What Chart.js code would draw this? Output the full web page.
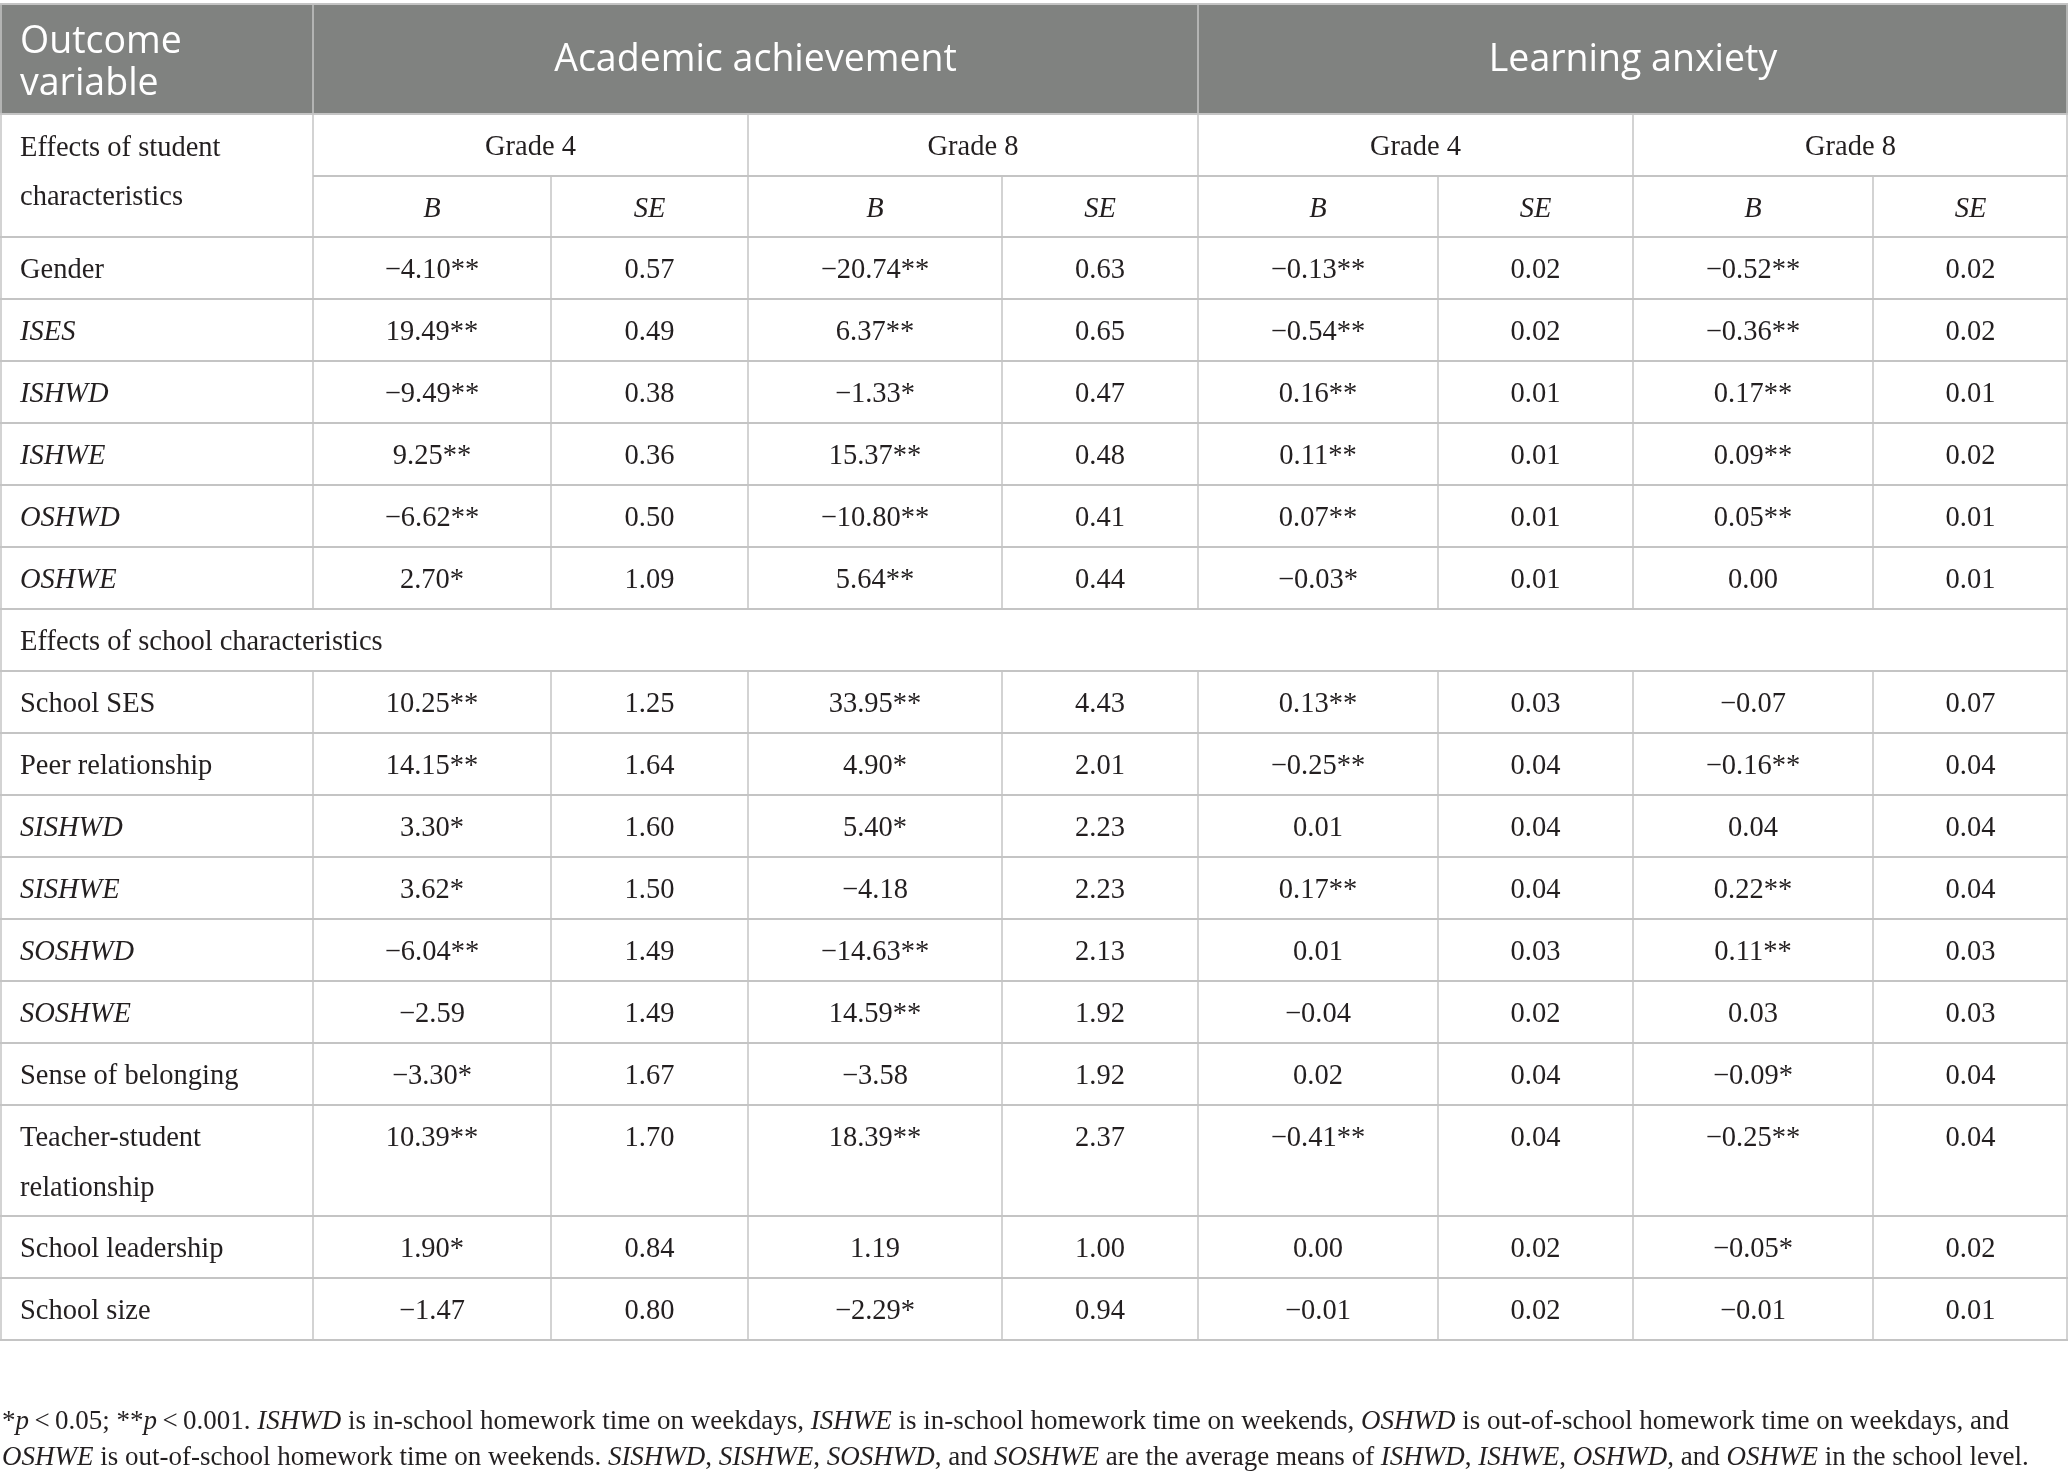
<!DOCTYPE html>
<html>
<head>
<meta charset="utf-8">
<title>Homework time and student outcomes</title>
<script src="https://cdn.jsdelivr.net/npm/chart.js@4.4.1/dist/chart.umd.min.js"></script>
<style>
  html, body { margin: 0; padding: 0; background: #fff; }
  #wrap { width: 2068px; height: 1480px; }
</style>
</head>
<body>
<div id="wrap"><canvas id="myChart" width="2068" height="1480"></canvas></div>
<script>
// table content
const outcomes = ['Academic achievement', 'Learning anxiety'];
const grades = ['Grade 4', 'Grade 8'];
const statCols = ['B', 'SE'];
const studentTitle = 'Effects of student characteristics';
const schoolTitle = 'Effects of school characteristics';

const studentVars = ['Gender', 'ISES', 'ISHWD', 'ISHWE', 'OSHWD', 'OSHWE'];
const schoolVars = ['School SES', 'Peer relationship', 'SISHWD', 'SISHWE', 'SOSHWD', 'SOSHWE',
  'Sense of belonging', 'Teacher-student relationship', 'School leadership', 'School size'];
const italicVars = ['ISES', 'ISHWD', 'ISHWE', 'OSHWD', 'OSHWE', 'SISHWD', 'SISHWE', 'SOSHWD', 'SOSHWE'];

// values: student rows first, then school rows
const acadG4B  = ['−4.10**', '19.49**', '−9.49**', '9.25**', '−6.62**', '2.70*',
  '10.25**', '14.15**', '3.30*', '3.62*', '−6.04**', '−2.59', '−3.30*', '10.39**', '1.90*', '−1.47'];
const acadG4SE = ['0.57', '0.49', '0.38', '0.36', '0.50', '1.09',
  '1.25', '1.64', '1.60', '1.50', '1.49', '1.49', '1.67', '1.70', '0.84', '0.80'];
const acadG8B  = ['−20.74**', '6.37**', '−1.33*', '15.37**', '−10.80**', '5.64**',
  '33.95**', '4.90*', '5.40*', '−4.18', '−14.63**', '14.59**', '−3.58', '18.39**', '1.19', '−2.29*'];
const acadG8SE = ['0.63', '0.65', '0.47', '0.48', '0.41', '0.44',
  '4.43', '2.01', '2.23', '2.23', '2.13', '1.92', '1.92', '2.37', '1.00', '0.94'];
const anxG4B   = ['−0.13**', '−0.54**', '0.16**', '0.11**', '0.07**', '−0.03*',
  '0.13**', '−0.25**', '0.01', '0.17**', '0.01', '−0.04', '0.02', '−0.41**', '0.00', '−0.01'];
const anxG4SE  = ['0.02', '0.02', '0.01', '0.01', '0.01', '0.01',
  '0.03', '0.04', '0.04', '0.04', '0.03', '0.02', '0.04', '0.04', '0.02', '0.02'];
const anxG8B   = ['−0.52**', '−0.36**', '0.17**', '0.09**', '0.05**', '0.00',
  '−0.07', '−0.16**', '0.04', '0.22**', '0.11**', '0.03', '−0.09*', '−0.25**', '−0.05*', '−0.01'];
const anxG8SE  = ['0.02', '0.02', '0.01', '0.02', '0.01', '0.01',
  '0.07', '0.04', '0.04', '0.04', '0.03', '0.03', '0.04', '0.04', '0.02', '0.01'];

const valueCols = [acadG4B, acadG4SE, acadG8B, acadG8SE, anxG4B, anxG4SE, anxG8B, anxG8SE];

// footnote pieces: [text, italic]
const note1 = [['*', 0], ['p', 1], ['\u2009<\u20090.05; **', 0], ['p', 1], ['\u2009<\u20090.001. ', 0],
  ['ISHWD', 1], [' is in-school homework time on weekdays, ', 0], ['ISHWE', 1],
  [' is in-school homework time on weekends, ', 0], ['OSHWD', 1],
  [' is out-of-school homework time on weekdays, and', 0]];
const note2 = [['OSHWE', 1], [' is out-of-school homework time on weekends. ', 0], ['SISHWD', 1], [', ', 0],
  ['SISHWE', 1], [', ', 0], ['SOSHWD', 1], [', and ', 0], ['SOSHWE', 1], [' are the average means of ', 0],
  ['ISHWD', 1], [', ', 0], ['ISHWE', 1], [', ', 0], ['OSHWD', 1], [', and ', 0], ['OSHWE', 1],
  [' in the school level.', 0]];

// ---- layout (pixels) ----
const colW = [313, 238, 197, 254, 196, 240, 195, 240, 195];
const colX = [0];
colW.forEach(w => colX.push(colX[colX.length - 1] + w));
const top0 = 4, headH = 110, subH1 = 62, subH2 = 61, rowH = 62, tallH = 111;

const bodyRows = [];  // {label, y0, y1, idx}
let yy = top0 + headH + subH1 + subH2;
studentVars.forEach((v, i) => { bodyRows.push({ label: v, y0: yy, y1: yy + rowH, idx: i }); yy += rowH; });
const schoolRowY = yy; yy += rowH;
schoolVars.forEach((v, i) => {
  const h = v.indexOf('Teacher') === 0 ? tallH : rowH;
  bodyRows.push({ label: v, y0: yy, y1: yy + h, idx: studentVars.length + i });
  yy += h;
});
const tableBottom = yy;

const serif = '"Liberation Serif", "DejaVu Serif", serif';
const sans = '"Open Sans", "Noto Sans", sans-serif';
const bodyFont = 28.5, headFont = 37.5, noteFont = 27;
const textCol = '#231f20', headBg = '#808280', lineCol = '#c4c4c4';

function cellCenter(c) { return (colX[c] + colX[c + 1]) / 2; }

const datasets = valueCols.map((col, c) => ({
  label: 'col' + c,
  data: bodyRows.map(r => ({ x: cellCenter(c + 1), y: r.y0 + rowH / 2 + 3 })),
  texts: bodyRows.map(r => col[r.idx]),
  pointRadius: 0,
  showLine: false
}));
datasets.push({
  label: 'labels',
  data: bodyRows.map(r => ({ x: 20, y: r.y0 + rowH / 2 + 3 })),
  texts: bodyRows.map(r => r.label),
  isLabel: true,
  pointRadius: 0,
  showLine: false
});

function splitLabel(s) {
  if (s === 'Teacher-student relationship') return ['Teacher-student', 'relationship'];
  return [s];
}

const tablePlugin = {
  id: 'tablePlugin',
  beforeDatasetsDraw(chart) {
    const { ctx, scales: { x, y } } = chart;
    const X = v => x.getPixelForValue(v), Y = v => y.getPixelForValue(v);
    ctx.save();
    // header band
    ctx.fillStyle = headBg;
    ctx.fillRect(X(0), Y(top0), X(colX[9]) - X(0), Y(top0 + headH) - Y(top0));
    ctx.strokeStyle = lineCol;
    const hline = (x0, x1, yv, w) => {
      ctx.lineWidth = w; ctx.beginPath(); ctx.moveTo(X(x0), Y(yv)); ctx.lineTo(X(x1), Y(yv)); ctx.stroke();
    };
    const vline = (xv, y0, y1, w) => {
      ctx.lineWidth = w; ctx.beginPath(); ctx.moveTo(X(xv), Y(y0)); ctx.lineTo(X(xv), Y(y1)); ctx.stroke();
    };
    hline(0, colX[9], top0, 2);
    hline(0, colX[9], top0 + headH, 2);
    hline(colX[1], colX[9], top0 + headH + subH1, 2);
    const yb = top0 + headH + subH1 + subH2;
    hline(0, colX[9], yb, 2);
    bodyRows.forEach(r => hline(0, colX[9], r.y1, 2));
    hline(0, colX[9], schoolRowY, 2);
    hline(0, colX[9], schoolRowY + rowH, 2);
    // vertical lines
    vline(1, top0, tableBottom, 1.5);
    vline(colX[9] - 1, top0, tableBottom, 1.5);
    vline(colX[1], top0, schoolRowY, 1.5);
    vline(colX[1], schoolRowY + rowH, tableBottom, 1.5);
    vline(colX[5], top0, top0 + headH, 1.5);
    [colX[3], colX[5], colX[7]].forEach(cx => vline(cx, top0 + headH, schoolRowY, 1.5));
    [2, 4, 6, 8].forEach(c => vline(colX[c], top0 + headH + subH1, schoolRowY, 1.5));
    for (let c = 2; c <= 8; c++) vline(colX[c], schoolRowY + rowH, tableBottom, 1.5);
    ctx.restore();
  },
  afterDatasetsDraw(chart) {
    const { ctx, scales: { x, y } } = chart;
    const X = v => x.getPixelForValue(v), Y = v => y.getPixelForValue(v);
    ctx.save();
    ctx.textBaseline = 'middle';
    // header text
    ctx.fillStyle = '#fff';
    ctx.font = headFont + 'px ' + sans;
    ctx.textAlign = 'left';
    ctx.fillText('Outcome', X(20), Y(top0 + 38));
    ctx.fillText('variable', X(20), Y(top0 + 80));
    ctx.textAlign = 'center';
    ctx.fillText(outcomes[0], X((colX[1] + colX[5]) / 2), Y(top0 + headH / 2 + 1));
    ctx.fillText(outcomes[1], X((colX[5] + colX[9]) / 2), Y(top0 + headH / 2 + 1));
    // sub headers
    ctx.fillStyle = textCol;
    ctx.font = bodyFont + 'px ' + serif;
    const g1 = top0 + headH + subH1 / 2 + 3, g2 = top0 + headH + subH1 + subH2 / 2 + 3;
    [1, 3, 5, 7].forEach((c, i) => {
      ctx.fillText(grades[i % 2], X((colX[c] + colX[c + 2]) / 2), Y(g1));
    });
    ctx.font = 'italic ' + bodyFont + 'px ' + serif;
    for (let c = 1; c <= 8; c++) ctx.fillText(statCols[(c - 1) % 2], X(cellCenter(c)), Y(g2));
    ctx.textAlign = 'left';
    ctx.font = bodyFont + 'px ' + serif;
    ctx.fillText('Effects of student', X(20), Y(g1 + 1));
    ctx.fillText('characteristics', X(20), Y(g1 + 50));
    ctx.fillText(schoolTitle, X(20), Y(schoolRowY + rowH / 2 + 3));
    // cells from dataset elements
    chart.data.datasets.forEach((ds, di) => {
      const meta = chart.getDatasetMeta(di);
      meta.data.forEach((pt, i) => {
        const t = ds.texts[i];
        if (ds.isLabel) {
          ctx.textAlign = 'left';
          ctx.font = (italicVars.includes(t) ? 'italic ' : '') + bodyFont + 'px ' + serif;
          splitLabel(t).forEach((line, k) => ctx.fillText(line, pt.x, pt.y + k * 50));
        } else {
          ctx.textAlign = 'center';
          ctx.font = bodyFont + 'px ' + serif;
          ctx.fillText(t, pt.x, pt.y);
        }
      });
    });
    // footnote
    ctx.textAlign = 'left';
    const drawNote = (parts, yv) => {
      let cx = X(2);
      parts.forEach(([s, it]) => {
        ctx.font = (it ? 'italic ' : '') + noteFont + 'px ' + serif;
        ctx.fillText(s, cx, Y(yv));
        cx += ctx.measureText(s).width;
      });
    };
    drawNote(note1, 1422);
    drawNote(note2, 1458);
    ctx.restore();
  }
};

const ctx = document.getElementById('myChart');
const myChart = new Chart(ctx, {
  type: 'scatter',
  data: { datasets: datasets },
  options: {
    responsive: false,
    devicePixelRatio: 1,
    animation: false,
    layout: { padding: 0 },
    plugins: { legend: { display: false }, tooltip: { enabled: false } },
    scales: {
      x: { type: 'linear', min: 0, max: 2068, display: false },
      y: { type: 'linear', min: 0, max: 1480, reverse: true, display: false }
    }
  },
  plugins: [tablePlugin]
});
</script>
</body>
</html>
